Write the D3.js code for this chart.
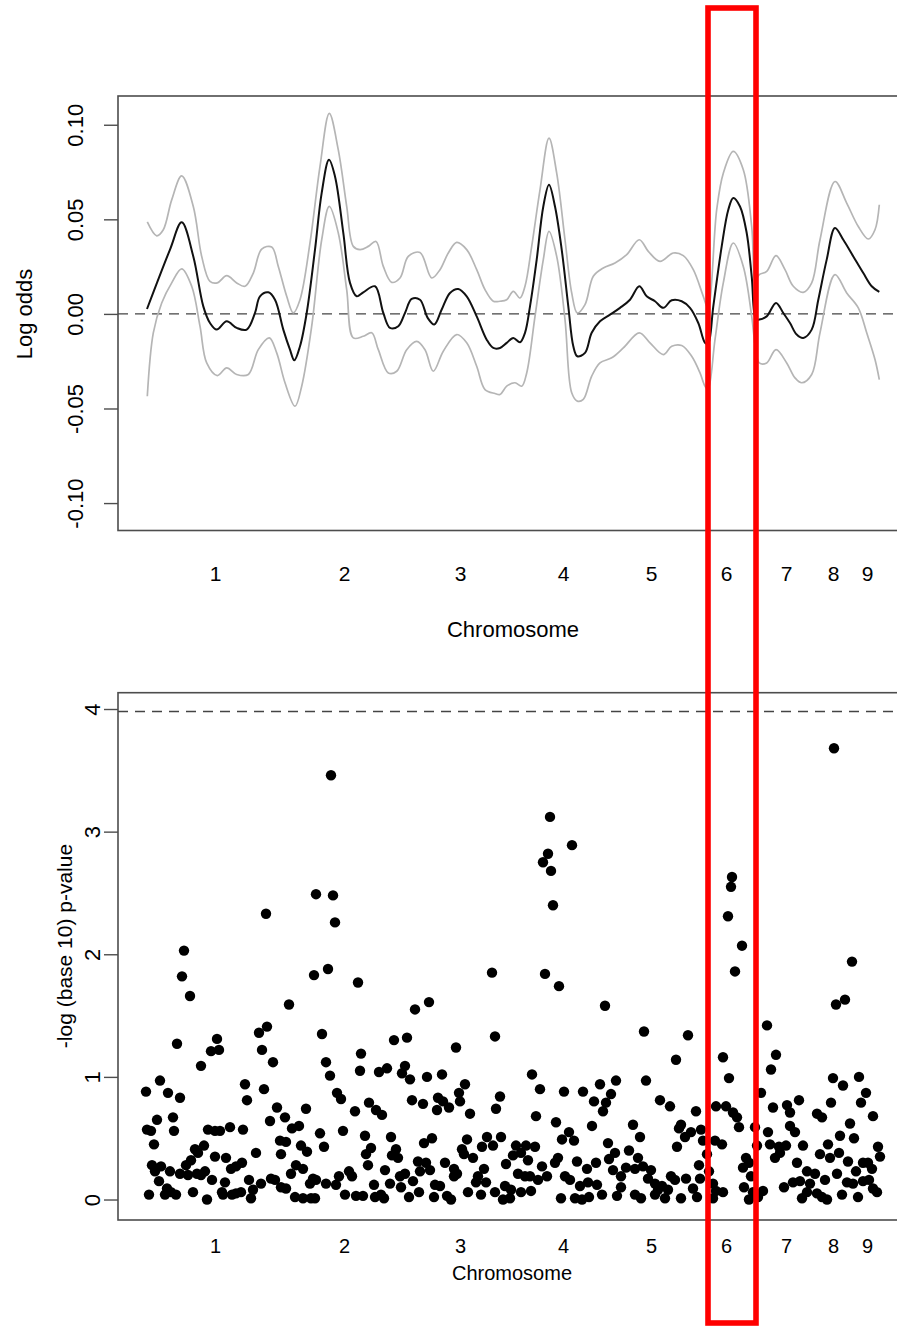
<!DOCTYPE html>
<html><head><meta charset="utf-8">
<script src="https://cdn.jsdelivr.net/npm/d3@7"></script>
<style>
html,body{margin:0;padding:0;background:#fff;}
svg{display:block;}
text{font-family:"Liberation Sans",Arial,Helvetica,sans-serif;fill:#000;}
</style>
</head><body>
<svg id="chart" width="897" height="1327"></svg>
<script>
// ---------- data ----------
const chromosomes = ["1","2","3","4","5","6","7","8","9"];
const chromCenters = [97,226,342,445,533,608,668,715,749]; // cumulative genome position
const highlightRegion = [590, 638]; // chromosome 6 span

const logOddsTicks = [-0.10,-0.05,0,0.05,0.10];
const logOddsTickLabels = ["-0.10","-0.05","0.00","0.05","0.10"];
const pvalTicks = [0,1,2,3,4];
const pvalThreshold = 3.98;

const logOddsMean = [[29,0.0026],[52,0.034],[63.7,0.0484],[75.3,0.0304],[85.3,0.004],[92,-0.0048],[98.7,-0.0083],[108.7,-0.0039],[118.7,-0.0074],[128.7,-0.0083],[137,0.0005],[142,0.0093],[150.3,0.0114],[157,0.0075],[165.3,-0.0083],[172,-0.0189],[176.3,-0.0245],[182,-0.0171],[188.7,0.0005],[197,0.034],[203.7,0.064],[211,0.0815],[217,0.0727],[225.3,0.0428],[232,0.0164],[238.7,0.0093],[245.3,0.0114],[257,0.0146],[265.3,0.0005],[272,-0.0074],[280.3,-0.0065],[287,0.0005],[293.7,0.0079],[302,0.0075],[309.7,-0.0021],[316.3,-0.0056],[323.7,0.0023],[332,0.0111],[340.3,0.0132],[348.7,0.0093],[358.7,-0.0013],[368.7,-0.0136],[375.3,-0.018],[382,-0.018],[388.7,-0.0153],[395.3,-0.0127],[402,-0.015],[407,-0.01],[412,0.004],[418.7,0.0287],[425.3,0.0568],[431,0.0683],[437,0.0568],[443.7,0.034],[450.3,0.004],[455.3,-0.0171],[459.3,-0.0224],[467,-0.0206],[473.7,-0.01],[482,-0.0039],[492,-0.0004],[502,0.0032],[512,0.0075],[521.3,0.0146],[528.7,0.0093],[537,0.0067],[545.3,0.0032],[553.7,0.0072],[563.7,0.0067],[572,0.0032],[580.3,-0.0048],[587,-0.0153],[590,-0.016],[595.3,0.004],[603.7,0.0357],[610.3,0.0551],[615.3,0.0613],[622,0.0568],[628.7,0.0428],[633.7,0.0199],[638,-0.003],[641.3,-0.003],[648.7,-0.0013],[658,0.0058],[665.3,0.0005],[672,-0.0048],[678.7,-0.0109],[685.3,-0.0127],[693.7,-0.0083],[700.3,0.0075],[708.7,0.0287],[717,0.0454],[725.3,0.0392],[735.3,0.0304],[745.3,0.0216],[753.7,0.0146],[761.3,0.0116]];

const logOddsUpper = [[29.3,0.0486],[38.7,0.0413],[45.3,0.0445],[53.7,0.0603],[63.7,0.073],[75.3,0.0568],[83.7,0.0304],[92,0.0172],[99.3,0.0164],[108.7,0.0202],[118.7,0.0164],[127,0.0146],[135.3,0.0216],[143.7,0.0343],[153.7,0.0354],[160.3,0.0251],[168.7,0.0093],[175.3,0.0005],[182,0.0075],[192,0.0375],[202,0.078],[211.3,0.106],[220.3,0.0867],[228.7,0.0568],[235.3,0.0357],[242,0.034],[250.3,0.0357],[258,0.0383],[265.3,0.0251],[273.7,0.0167],[282,0.019],[290.3,0.0304],[302,0.0325],[313.7,0.019],[322,0.0234],[330.3,0.0322],[338.7,0.0378],[348.7,0.034],[358.7,0.0234],[367,0.0128],[375.3,0.0067],[382,0.0067],[388.7,0.0075],[395.3,0.0119],[402,0.0084],[407,0.0146],[413.7,0.0357],[422,0.0656],[431,0.0929],[438.7,0.0744],[447,0.0392],[453.7,0.0111],[459.3,0.0005],[467,0.0049],[475.3,0.0199],[485.3,0.0243],[497,0.0269],[508.7,0.0313],[521.3,0.0392],[530.3,0.0331],[542,0.0278],[555.3,0.0322],[565.3,0.0308],[575.3,0.0234],[585.3,0.0093],[590,0.003],[598.7,0.0551],[605.3,0.0744],[615.3,0.0859],[625.3,0.0762],[633.7,0.0462],[637.5,0.018],[641.3,0.0208],[648.7,0.0225],[658,0.0308],[667,0.0234],[675.3,0.0146],[685.3,0.0114],[693.7,0.0164],[702,0.0392],[717,0.07],[728.7,0.0586],[740.3,0.0462],[750.3,0.0396],[757,0.0445],[761.3,0.0577]];

const logOddsLower = [[29.3,-0.0435],[35.3,-0.01],[43.7,0.0058],[53.7,0.0164],[63.7,0.0238],[73.7,0.0146],[82,-0.0065],[88.7,-0.0259],[99.3,-0.0326],[108.7,-0.0285],[118.7,-0.032],[130.3,-0.032],[140.3,-0.0189],[151.3,-0.0127],[158.7,-0.0206],[167,-0.0364],[177,-0.0488],[183.7,-0.0382],[193.7,-0.0065],[203.7,0.0392],[211.3,0.0568],[220.3,0.0428],[228.7,0.0128],[235.3,-0.0127],[245.3,-0.0118],[253.7,-0.01],[260.3,-0.0189],[270.3,-0.0312],[278.7,-0.0303],[288.7,-0.0189],[298.7,-0.0145],[307,-0.0189],[315.3,-0.0303],[325.3,-0.0197],[338.7,-0.0109],[348.7,-0.0153],[358.7,-0.0277],[367,-0.04],[377,-0.0421],[382,-0.0426],[388.7,-0.0382],[397,-0.0364],[403.7,-0.0382],[408.7,-0.0312],[417,-0.0013],[425.3,0.0287],[431,0.0436],[438.7,0.0304],[447,-0.003],[453.7,-0.0417],[459.3,-0.0461],[465.3,-0.0452],[473.7,-0.0329],[482,-0.0259],[493.7,-0.0232],[505.3,-0.018],[521.3,-0.01],[532,-0.0153],[545.3,-0.0215],[553.7,-0.0171],[563.7,-0.0167],[573.7,-0.0224],[582,-0.0312],[587,-0.0382],[590,-0.040],[597,-0.0136],[605.3,0.0164],[615.3,0.0375],[625.3,0.0251],[633.7,-0.0013],[637.5,-0.018],[641.3,-0.0259],[648.7,-0.0259],[658,-0.0189],[668.7,-0.0259],[677,-0.0338],[683.7,-0.0364],[693.7,-0.032],[702,-0.01],[717,0.0208],[728.7,0.0111],[740.3,0.0032],[748.7,-0.01],[757,-0.0241],[761.3,-0.0347]];

// [genome position, -log10 p-value]
const snpPoints = [
[198,2.49],[148,2.33],[66,2.03],[64,1.82],[72,1.66],[196,1.83],[171,1.59],[149,1.41],[141,1.36],[204,1.35],[59,1.27],[99,1.31],[93,1.21],[101,1.22],[144,1.22],[155,1.12],[83,1.09],[42,0.97],[28,0.88],[50,0.87],[62,0.83],[127,0.94],[146,0.90],[129,0.81],[159,0.75],[188,0.74],[167,0.67],[55,0.67],[39,0.65],[152,0.64],[29,0.57],[33,0.56],[56,0.56],[90,0.57],[97,0.56],[102,0.56],[112,0.59],[125,0.57],[174,0.58],[181,0.60],[202,0.54],[36,0.45],[86,0.44],[77,0.41],[80,0.38],[162,0.48],[168,0.47],[183,0.44],[189,0.39],[138,0.38],[163,0.37],[97,0.35],[108,0.34],[73,0.32],[34,0.28],[43,0.27],[68,0.28],[113,0.25],[118,0.27],[124,0.30],[37,0.23],[52,0.23],[62,0.21],[70,0.20],[79,0.21],[87,0.23],[83,0.20],[178,0.28],[185,0.25],[173,0.21],[41,0.15],[94,0.16],[107,0.14],[131,0.16],[143,0.13],[153,0.17],[157,0.16],[195,0.17],[192,0.13],[31,0.04],[47,0.04],[49,0.09],[53,0.06],[58,0.04],[75,0.06],[89,0.00],[104,0.06],[105,0.04],[114,0.04],[118,0.05],[123,0.06],[135,0.08],[133,0.01],[163,0.10],[168,0.09],[177,0.02],[185,0.01],[193,0.01],
[213,3.46],[215,2.48],[217,2.26],[210,1.88],[240,1.77],[374,1.85],[311,1.61],[297,1.55],[377,1.33],[276,1.30],[289,1.32],[338,1.24],[243,1.19],[208,1.12],[212,1.01],[242,1.05],[261,1.04],[269,1.07],[287,1.09],[284,1.03],[292,0.98],[309,1.00],[324,1.02],[347,0.94],[341,0.87],[219,0.87],[223,0.82],[251,0.79],[258,0.73],[264,0.69],[237,0.72],[294,0.81],[305,0.78],[320,0.83],[325,0.80],[319,0.73],[331,0.75],[342,0.80],[352,0.70],[382,0.84],[378,0.74],[225,0.56],[247,0.52],[273,0.51],[314,0.50],[306,0.46],[349,0.49],[369,0.51],[383,0.51],[206,0.43],[253,0.42],[248,0.37],[278,0.41],[274,0.36],[280,0.34],[344,0.41],[346,0.37],[364,0.43],[375,0.44],[355,0.34],[250,0.28],[300,0.31],[308,0.30],[327,0.30],[388,0.29],[267,0.24],[302,0.23],[312,0.24],[336,0.25],[339,0.21],[366,0.25],[231,0.23],[234,0.19],[221,0.19],[282,0.19],[287,0.21],[336,0.19],[360,0.19],[198,0.16],[208,0.13],[218,0.12],[256,0.12],[272,0.13],[283,0.10],[295,0.15],[317,0.12],[322,0.11],[358,0.14],[368,0.14],[387,0.11],[227,0.04],[238,0.03],[245,0.03],[257,0.02],[263,0.04],[266,0.01],[291,0.02],[301,0.06],[316,0.02],[329,0.03],[333,0.00],[350,0.06],[363,0.04],[377,0.06],[385,0.00],[197,0.01],
[432,3.12],[454,2.89],[430,2.82],[425,2.75],[433,2.68],[435,2.40],[427,1.84],[441,1.74],[487,1.58],[526,1.37],[570,1.34],[558,1.14],[414,1.02],[422,0.90],[446,0.88],[465,0.88],[482,0.94],[498,0.97],[528,0.97],[493,0.86],[476,0.80],[488,0.79],[485,0.72],[542,0.81],[552,0.76],[578,0.72],[418,0.68],[438,0.63],[474,0.60],[515,0.61],[451,0.55],[444,0.49],[456,0.48],[522,0.51],[563,0.61],[561,0.58],[573,0.55],[567,0.51],[583,0.57],[490,0.46],[497,0.38],[511,0.40],[559,0.43],[398,0.44],[408,0.44],[417,0.43],[395,0.36],[403,0.38],[410,0.32],[440,0.34],[437,0.30],[459,0.31],[478,0.30],[469,0.25],[491,0.33],[520,0.34],[424,0.27],[400,0.21],[407,0.19],[412,0.19],[420,0.16],[429,0.19],[447,0.19],[452,0.16],[495,0.24],[508,0.26],[517,0.25],[525,0.27],[533,0.24],[503,0.19],[530,0.17],[553,0.19],[557,0.16],[568,0.17],[582,0.17],[581,0.28],[462,0.11],[470,0.14],[479,0.12],[503,0.10],[537,0.13],[544,0.11],[540,0.08],[550,0.08],[575,0.09],[393,0.08],[403,0.06],[413,0.07],[443,0.01],[457,0.01],[464,0.00],[471,0.02],[484,0.04],[499,0.03],[517,0.04],[523,0.01],[537,0.04],[547,0.01],[563,0.01],[579,0.02],[392,0.01],
[716,3.68],[614,2.63],[613,2.55],[610,2.31],[624,2.07],[617,1.86],[734,1.94],[727,1.63],[718,1.59],[649,1.42],[605,1.16],[658,1.18],[653,1.06],[611,0.99],[715,0.99],[741,1.00],[725,0.93],[748,0.87],[643,0.87],[743,0.79],[713,0.79],[681,0.81],[669,0.77],[655,0.75],[598,0.76],[608,0.76],[615,0.71],[619,0.67],[672,0.71],[699,0.70],[704,0.67],[755,0.68],[621,0.59],[637,0.59],[672,0.60],[732,0.62],[650,0.55],[677,0.55],[722,0.52],[736,0.50],[597,0.48],[604,0.45],[585,0.48],[652,0.45],[639,0.44],[668,0.44],[661,0.43],[685,0.44],[710,0.45],[760,0.43],[589,0.37],[662,0.38],[657,0.34],[702,0.37],[712,0.34],[721,0.38],[762,0.35],[628,0.34],[631,0.30],[625,0.26],[679,0.30],[730,0.31],[745,0.30],[750,0.30],[754,0.25],[738,0.23],[719,0.21],[689,0.23],[697,0.21],[591,0.23],[633,0.19],[707,0.16],[745,0.15],[751,0.16],[729,0.14],[735,0.13],[675,0.14],[682,0.15],[692,0.13],[595,0.13],[666,0.10],[626,0.10],[755,0.09],[759,0.06],[598,0.07],[605,0.06],[635,0.06],[645,0.07],[689,0.06],[699,0.05],[724,0.04],[740,0.02],[595,0.01],[631,0.00],[640,0.02],[684,0.01],[709,0.00],[704,0.02]
];

// ---------- layout ----------
const svg = d3.select("#chart");
const FRAME = "#4d4d4d";

const x = d3.scaleLinear().domain([0, 780]).range([118, 898]);
const yTop = d3.scaleLinear().domain([-0.1145, 0.1152]).range([530.5, 96]);
const yBot = d3.scaleLinear().domain([-0.167, 4.133]).range([1220, 692.7]);

function panelBox(yScale) {
  const [y1, y0] = yScale.range();
  svg.append("rect")
    .attr("x", x.range()[0]).attr("y", y0)
    .attr("width", 820).attr("height", y1 - y0)
    .attr("fill", "none").attr("stroke", FRAME).attr("stroke-width", 1.6);
}

function leftAxis(yScale, ticks, labels, labelOffset, fontSize) {
  const g = svg.append("g")
    .attr("transform", `translate(${x.range()[0]},0)`)
    .call(d3.axisLeft(yScale).tickValues(ticks)
      .tickFormat((d, i) => labels[i]).tickSize(14).tickSizeOuter(0));
  g.attr("font-size", null).attr("font-family", null);
  g.select(".domain").remove();
  g.selectAll(".tick line").attr("stroke", FRAME).attr("stroke-width", 1.4);
  g.selectAll(".tick text")
    .attr("transform", "rotate(-90)")
    .attr("x", 0).attr("y", -labelOffset).attr("dy", 0)
    .attr("text-anchor", "middle")
    .style("font-size", fontSize + "px").attr("fill", "#000");
}

function bottomLabels(yBase, offset, fontSize) {
  const g = svg.append("g")
    .attr("transform", `translate(0,${yBase})`)
    .call(d3.axisBottom(x).tickValues(chromCenters)
      .tickFormat((d, i) => chromosomes[i]).tickSize(0));
  g.attr("font-size", null).attr("font-family", null);
  g.select(".domain").remove();
  g.selectAll(".tick text").attr("y", offset).attr("dy", 0)
    .style("font-size", fontSize + "px").attr("fill", "#000");
}

// ---------- top panel: log odds ----------
panelBox(yTop);
leftAxis(yTop, logOddsTicks, logOddsTickLabels, 35, 22);
bottomLabels(530.5, 50.5, 21);

svg.append("text").attr("x", 513).attr("y", 636.5)
  .attr("text-anchor", "middle").style("font-size", "22px").text("Chromosome");
svg.append("text").attr("transform", "translate(32,314) rotate(-90)")
  .attr("text-anchor", "middle").style("font-size", "22px").text("Log odds");

svg.append("line")
  .attr("x1", x.range()[0]).attr("x2", 897)
  .attr("y1", yTop(0)).attr("y2", yTop(0))
  .attr("stroke", "#444").attr("stroke-width", 1.4).attr("stroke-dasharray", "10,7");

const line = d3.line()
  .x(d => x(d[0])).y(d => yTop(d[1]))
  .curve(d3.curveCatmullRom.alpha(0.5));

svg.append("path").datum(logOddsUpper).attr("d", line)
  .attr("fill", "none").attr("stroke", "#b5b5b5").attr("stroke-width", 1.7);
svg.append("path").datum(logOddsLower).attr("d", line)
  .attr("fill", "none").attr("stroke", "#b5b5b5").attr("stroke-width", 1.7);
svg.append("path").datum(logOddsMean).attr("d", line)
  .attr("fill", "none").attr("stroke", "#111").attr("stroke-width", 2);

// ---------- bottom panel: -log10 p ----------
panelBox(yBot);
leftAxis(yBot, pvalTicks, pvalTicks.map(String), 18, 22);
bottomLabels(1220, 33, 20);

svg.append("text").attr("x", 512).attr("y", 1280)
  .attr("text-anchor", "middle").style("font-size", "20px").text("Chromosome");
svg.append("text").attr("transform", "translate(72,946) rotate(-90)")
  .attr("text-anchor", "middle").style("font-size", "21px").text("-log (base 10) p-value");

svg.append("line")
  .attr("x1", x.range()[0]).attr("x2", 897)
  .attr("y1", yBot(pvalThreshold)).attr("y2", yBot(pvalThreshold))
  .attr("stroke", "#444").attr("stroke-width", 1.4).attr("stroke-dasharray", "10,7");

svg.append("g").selectAll("circle").data(snpPoints).join("circle")
  .attr("cx", d => x(d[0])).attr("cy", d => yBot(d[1]))
  .attr("r", 5.2).attr("fill", "#000");

// ---------- highlight of chromosome 6 ----------
svg.append("rect")
  .attr("x", x(highlightRegion[0])).attr("y", 8)
  .attr("width", x(highlightRegion[1]) - x(highlightRegion[0]))
  .attr("height", 1315)
  .attr("fill", "none").attr("stroke", "#ff0000").attr("stroke-width", 5.6);
</script>
</body></html>
